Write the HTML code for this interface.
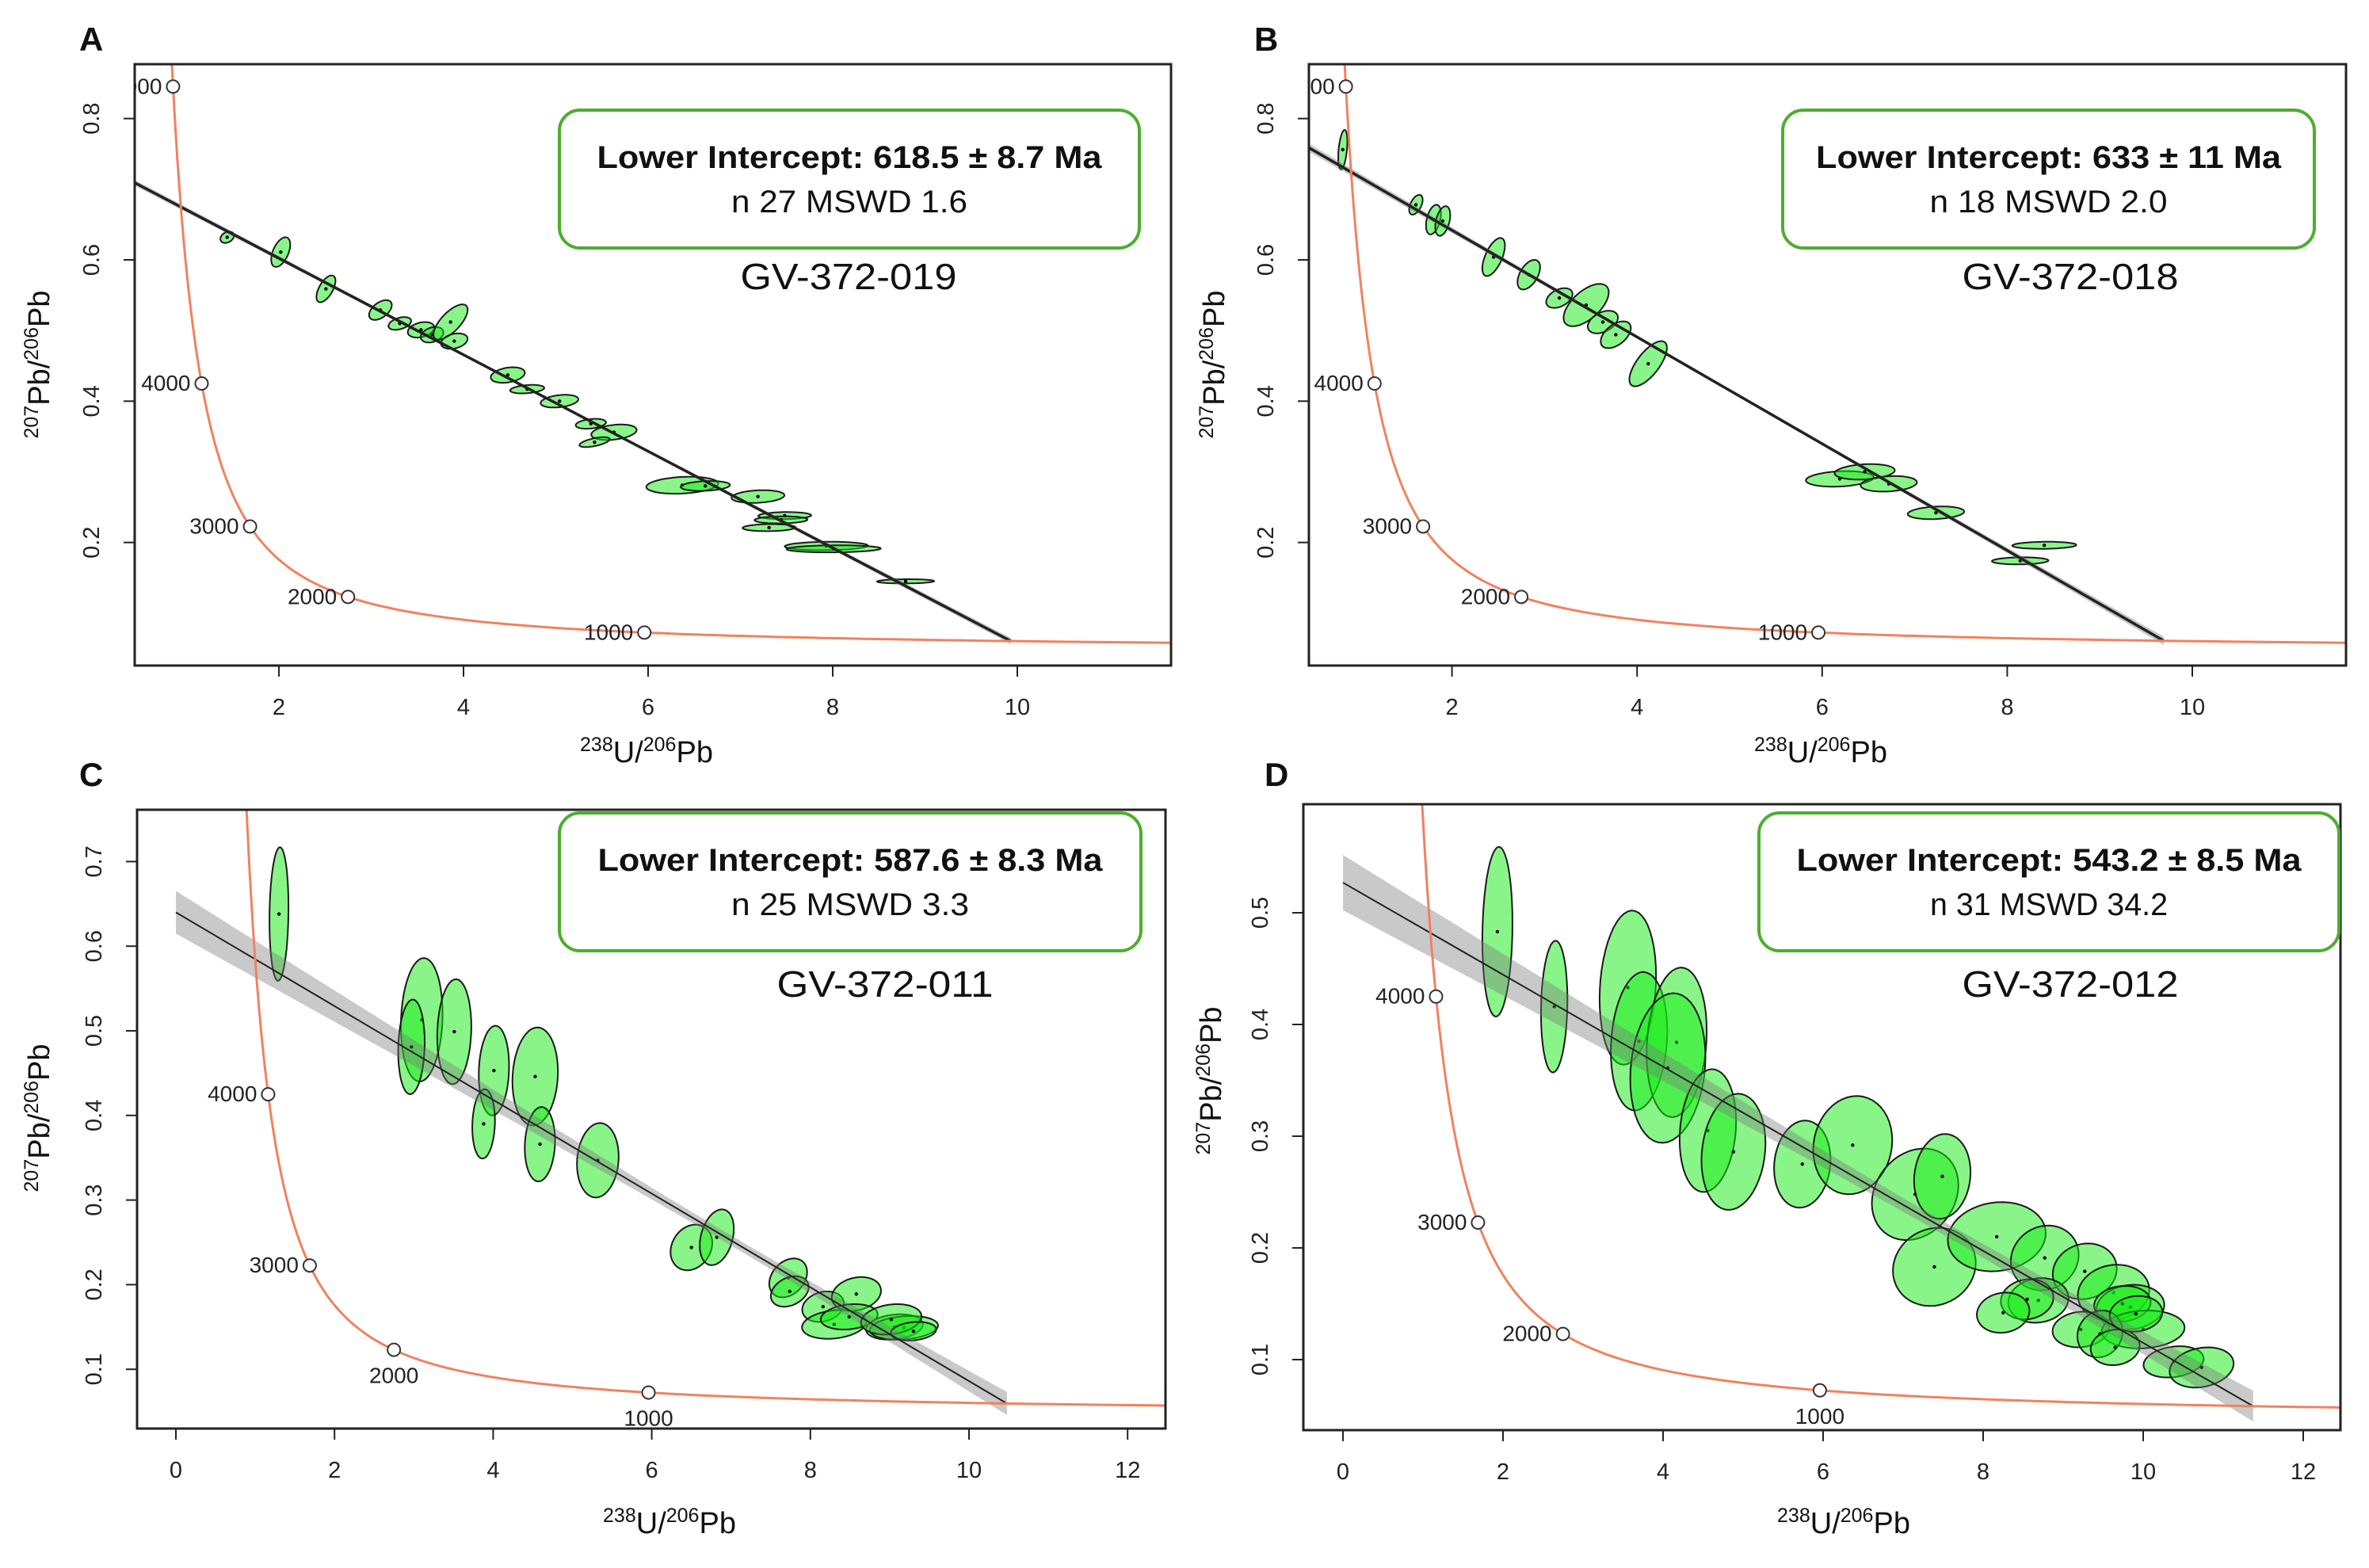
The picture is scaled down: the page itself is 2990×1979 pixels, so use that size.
<!DOCTYPE html>
<html><head><meta charset="utf-8"><style>
html,body{margin:0;padding:0;background:#fff;}
svg{display:block;}
text{font-family:"Liberation Sans",sans-serif;}
.narrow{font-family:"Liberation Sans Narrow","Liberation Sans",sans-serif;}
</style></head><body>
<svg id="fig" width="2990" height="1979" viewBox="0 0 2990 1979" xmlns="http://www.w3.org/2000/svg">
<rect width="2990" height="1979" fill="#fff"/>
</svg>
<script>
// ---- Panel A data ----
const aX=[1.44,2.02,2.51,3.10,3.31,3.54,3.66,3.86,3.90,4.48,4.69,5.04,5.38,5.63,5.42,6.37,6.62,7.19,7.48,7.44,7.31,7.93,8.01,8.79];
const aY=[0.632,0.611,0.559,0.529,0.510,0.501,0.494,0.512,0.485,0.437,0.417,0.400,0.368,0.356,0.342,0.281,0.280,0.265,0.238,0.232,0.221,0.195,0.191,0.145];
const aSX=[.074,.103,.103,.123,.123,.144,.123,.185,.144,.185,.185,.205,.164,.246,.164,.39,.267,.287,.287,.287,.287,.45,.51,.31];
const aSY=[.008,.021,.019,.014,.009,.011,.011,.025,.011,.011,.006,.009,.007,.011,.007,.012,.007,.009,.005,.005,.005,.006,.005,.003];
const aRho=[.3,.5,.6,.5,.4,.3,.3,.7,.3,.3,.3,.3,.3,.3,.6,.2,.2,.2,.1,.1,.1,.1,.1,.1];
// ---- Panel B data ----
const bX=[0.82,1.61,1.80,1.90,2.45,2.83,3.16,3.45,3.63,3.77,4.12,6.19,6.46,6.72,7.23,8.40,8.14];
const bY=[0.756,0.678,0.657,0.655,0.604,0.579,0.546,0.536,0.512,0.494,0.453,0.290,0.300,0.283,0.242,0.196,0.174];
const bSX=[.049,.073,.081,.081,.122,.122,.142,.244,.163,.163,.203,.366,.325,.305,.305,.346,.305];
const bSY=[.028,.014,.021,.021,.027,.021,.014,.030,.016,.019,.032,.011,.011,.011,.009,.005,.005];
const bRho=[.4,.5,.4,.4,.6,.5,.4,.6,.4,.5,.7,.2,.2,.2,.2,.1,.1];
// ---- Panel C data ----
const cX=[1.30,3.10,2.97,3.51,4.01,4.53,3.88,4.59,5.32,6.50,6.82,7.72,7.74,8.16,8.58,8.30,8.49,9.06,9.18,9.02,9.30];
const cY=[0.638,0.513,0.481,0.499,0.453,0.446,0.390,0.366,0.347,0.244,0.256,0.208,0.192,0.174,0.189,0.153,0.162,0.150,0.149,0.159,0.145];
const cSX=[.12,.263,.167,.215,.191,.287,.143,.191,.263,.263,.215,.239,.239,.263,.311,.406,.359,.359,.43,.382,.287];
const cSY=[.079,.073,.056,.062,.053,.058,.041,.044,.044,.027,.033,.023,.018,.018,.020,.017,.015,.015,.014,.018,.011];
const cRho=[.1,.1,.1,.1,.1,.1,.1,.1,.1,.2,.3,.3,.3,.2,.2,.2,.2,.2,.2,.2,.2];
// ---- Panel D data ----
const dX=[1.93,2.64,3.56,3.70,4.17,4.06,4.56,4.88,5.74,6.37,7.15,7.49,7.39,8.17,8.77,9.27,8.69,8.55,8.25,9.63,9.84,9.74,9.22,10.0,9.46,9.65,10.38,10.73,9.91];
const dY=[0.483,0.416,0.433,0.385,0.384,0.361,0.305,0.286,0.275,0.292,0.248,0.264,0.183,0.210,0.191,0.179,0.153,0.154,0.142,0.160,0.147,0.150,0.127,0.127,0.123,0.111,0.098,0.093,0.141];
const dSX=[.188,.165,.353,.353,.376,.47,.353,.4,.353,.494,.541,.353,.518,.612,.424,.4,.376,.329,.329,.447,.424,.353,.353,.518,.282,.306,.376,.4,.329];
const dSY=[.076,.059,.069,.062,.067,.067,.055,.052,.039,.044,.041,.038,.035,.031,.029,.025,.020,.018,.018,.025,.020,.016,.016,.017,.021,.016,.014,.018,.016];
const dRho=[.1,.1,.15,.15,.15,.15,.15,.15,.1,.1,.2,.1,.1,.1,.1,.1,.1,.1,.1,.1,.1,.1,.1,.1,.1,.1,.2,.2,.1];
// tick labels
const abXTicks=[2,4,6,8,10];
const abYTicks=[0.2,0.4,0.6,0.8];
const cdXTicks=[0,2,4,6,8,10,12];
const cYTicks=[0.1,0.2,0.3,0.4,0.5,0.6,0.7];
const dYTicks=[0.1,0.2,0.3,0.4,0.5];
const concAges=[1000,2000,3000,4000,5000];
// discordia: upper intercept y at x=0, lower intercept age
const aDisc=[0.739,618.5]; const bDisc=[0.793,633]; const cDisc=[0.640,587.6]; const dDisc=[0.527,543.2];
const aStats=["618.5","8.7","27","1.6"]; const bStats=["633","11","18","2.0"];
const cStats=["587.6","8.3","25","3.3"]; const dStats=["543.2","8.5","31","34.2"];

const NS="http://www.w3.org/2000/svg";
const svg=document.getElementById('fig');
const L238=1.55125e-10, L235=9.8485e-10;
function tw(tMa){const t=tMa*1e6;const e8=Math.exp(L238*t)-1, e5=Math.exp(L235*t)-1;return [1/e8, e5/e8/137.88];}
function mk(tag,attrs,parent){const e=document.createElementNS(NS,tag);for(const k in attrs)e.setAttribute(k,attrs[k]);(parent||svg).appendChild(e);return e;}

function panel(cfg){
  const g=mk('g',{});
  
  
  const [fl,ft,fr,fb]=cfg.frame;
  const X=v=>cfg.x0+v*cfg.xu, Y=v=>cfg.y0-v*cfg.yu;
  const clipId='clip'+cfg.id;
  const cp=mk('clipPath',{id:clipId},g); mk('rect',{x:fl,y:ft,width:fr-fl,height:fb-ft},cp);
  const inner=mk('g',{'clip-path':'url(#'+clipId+')'},g);
  // ellipses
  const eg=mk('g',{},inner);
  
  
  for(let i=0;i<cfg.xs.length;i++){
    let d='';const r=cfg.rho[i],s=Math.sqrt(1-r*r);
    for(let k=0;k<=48;k++){const t=k/48*2*Math.PI;
      const px=X(cfg.xs[i]+cfg.sx[i]*Math.cos(t)), py=Y(cfg.ys[i]+cfg.sy[i]*(r*Math.cos(t)+s*Math.sin(t)));
      d+=(k?'L':'M')+px.toFixed(1)+' '+py.toFixed(1);}
    const el=mk('path',{d:d+'Z',fill:'rgba(20,235,20,0.5)',stroke:'#1a1a1a','stroke-width':2},eg);
    
    
    mk('circle',{cx:X(cfg.xs[i]),cy:Y(cfg.ys[i]),r:2.2,fill:'#000'},eg);
  }
  // discordia
  const li=tw(cfg.disc[1]); const y0=cfg.disc[0]; const slope=(li[1]-y0)/li[0];
  const xl=(fl-cfg.x0)/cfg.xu; const xs0=Math.max(xl,0);
  const [ba,bb,bc]=cfg.band; const w=x=>Math.sqrt(ba*ba+bb*bb*(x-bc)*(x-bc));
  let up='',lo=[];
  for(let k=0;k<=60;k++){const x=xs0+(li[0]-xs0)*k/60;const y=y0+slope*x;
    up+=(k?'L':'M')+X(x).toFixed(1)+' '+Y(y+w(x)).toFixed(1);lo.push(X(x).toFixed(1)+' '+Y(y-w(x)).toFixed(1));}
  const band=mk('path',{d:up+'L'+lo.reverse().join('L')+'Z',fill:'rgba(120,120,120,0.4)'},inner);
  
  
  const dl=mk('line',{x1:X(xs0),y1:Y(y0+slope*xs0),x2:X(li[0]),y2:Y(li[1]),stroke:'#222','stroke-width':cfg.lw},inner);
  
  
  // concordia
  let cd='';
  for(let k=0;k<=400;k++){const t=200+k*(5500-200)/400;const p=tw(t);cd+=(k?'L':'M')+X(p[0]).toFixed(1)+' '+Y(p[1]).toFixed(1);}
  const cc=mk('path',{d:cd,fill:'none',stroke:'#f0825f','stroke-width':3},inner);
  
  
  concAges.forEach((a,i)=>{const p=tw(a);const px=X(p[0]),py=Y(p[1]);
    const m=mk('circle',{cx:px,cy:py,r:8,fill:'#fff',stroke:'#333','stroke-width':2},inner);
    
    
    const pos=cfg.lblPos[i];let tx,ty,anc;
    if(pos==='b'){tx=px;ty=py+42;anc='middle';}else{tx=px-14;ty=py+9;anc='end';}
    const t=mk('text',{x:tx,y:ty,'text-anchor':anc,'font-size':28,fill:'#222'},inner);t.textContent=a;
    
    
  });
  // frame
  const fr_=mk('rect',{x:fl,y:ft,width:fr-fl,height:fb-ft,fill:'none',stroke:'#222','stroke-width':3},g);
  
  
  // ticks
  cfg.xt.forEach(v=>{const px=X(v);mk('line',{x1:px,y1:fb,x2:px,y2:fb+14,stroke:'#222','stroke-width':2},g);
    const t=mk('text',{x:px,y:fb+62,'text-anchor':'middle','font-size':29,fill:'#222'},g);t.textContent=v;
    
    });
  cfg.yt.forEach(v=>{const py=Y(v);mk('line',{x1:fl,y1:py,x2:fl-14,y2:py,stroke:'#222','stroke-width':2},g);
    const t=mk('text',{x:0,y:0,'text-anchor':'middle','font-size':29,fill:'#222',transform:'translate('+(fl-45)+','+py+') rotate(-90)'},g);t.textContent=v.toFixed(1);
    
    });
  // axis titles
  const xtit=mk('text',{x:cfg.xtx,y:cfg.xty,'text-anchor':'middle','font-size':38,fill:'#111'},g);
  xtit.innerHTML='<tspan font-size="25" dy="-14">238</tspan><tspan dy="14">U/</tspan><tspan font-size="25" dy="-14">206</tspan><tspan dy="14">Pb</tspan>';
  
  
  const ytit=mk('text',{x:0,y:0,'text-anchor':'middle','font-size':38,fill:'#111',transform:'translate('+cfg.ytx+','+cfg.yty+') rotate(-90)'},g);
  ytit.innerHTML='<tspan font-size="25" dy="-14">207</tspan><tspan dy="14">Pb/</tspan><tspan font-size="25" dy="-14">206</tspan><tspan dy="14">Pb</tspan>';
  
  
  // panel letter
  const pl=mk('text',{x:cfg.letter[0],y:cfg.letter[1],'font-size':42,'font-weight':'bold',fill:'#111'},g);pl.textContent=cfg.id;
  
  
  // result box
  const [bx1,by1,bx2,by2]=cfg.box;const cx=(bx1+bx2)/2;
  const bxr=mk('rect',{x:bx1,y:by1,width:bx2-bx1,height:by2-by1,rx:26,fill:'#fff',stroke:'#4cae2e','stroke-width':4},g);
  
  
  const st=cfg.stats;
  const t1=mk('text',{x:cx,y:by1+73,'text-anchor':'middle','font-size':40,'font-weight':'bold',fill:'#111',textLength:cfg.w1,lengthAdjust:'spacingAndGlyphs',class:'narrow'},g);
  t1.textContent='Lower Intercept: '+st[0]+'  \u00b1 '+st[1]+' Ma';
  
  
  const t2=mk('text',{x:cx,y:by1+129,'text-anchor':'middle','font-size':40,fill:'#111',class:'narrow',textLength:cfg.w2,lengthAdjust:'spacingAndGlyphs'},g);
  t2.textContent='n '+st[2]+' MSWD '+st[3];
  
  
  const t3=mk('text',{x:cfg.sample[0],y:cfg.sample[1],'text-anchor':'middle','font-size':46,fill:'#111',class:'narrow',textLength:cfg.sample[3],lengthAdjust:'spacingAndGlyphs'},g);
  t3.textContent=cfg.sample[2];
  
  
}

panel({id:'A',frame:[170,81,1478,840],x0:119,xu:116.5,y0:863,yu:891.7,xs:aX,ys:aY,sx:aSX,sy:aSY,rho:aRho,
  disc:aDisc,band:[0.002,0.0008,5],lw:3.5,lblPos:['l','l','l','l','l'],xt:abXTicks,yt:abYTicks,
  xtx:816,xty:962,ytx:62,yty:460,letter:[100,64],box:[706,139,1438,313],stats:aStats,w1:637,w2:298,
  sample:[1071,365,'GV-372-019',273]});
panel({id:'B',frame:[1652,81,2961,840],x0:1599,xu:116.8,y0:863,yu:891.7,xs:bX,ys:bY,sx:bSX,sy:bSY,rho:bRho,
  disc:bDisc,band:[0.002,0.0012,5],lw:3.5,lblPos:['l','l','l','l','l'],xt:abXTicks,yt:abYTicks,
  xtx:2298,xty:962,ytx:1545,yty:460,letter:[1583,64],box:[2250,139,2921,313],stats:bStats,w1:587,w2:300,
  sample:[2613,365,'GV-372-018',273]});
panel({id:'C',frame:[173,1022,1471,1803],x0:222,xu:100.1,y0:1835,yu:1068,xs:cX,ys:cY,sx:cSX,sy:cSY,rho:cRho,
  disc:cDisc,band:[0.006,0.0035,7],lw:2,lblPos:['b','b','l','l','l'],xt:cdXTicks,yt:cYTicks,
  xtx:845,xty:1935,ytx:62,yty:1411,letter:[100,992],box:[706,1026,1440,1200],stats:cStats,w1:637,w2:300,
  sample:[1117,1258,'GV-372-011',273]});
panel({id:'D',frame:[1645,1015,2954,1805],x0:1695,xu:101,y0:1857,yu:1410,xs:dX,ys:dY,sx:dSX,sy:dSY,rho:dRho,
  disc:dDisc,band:[0.006,0.0032,7.5],lw:2,lblPos:['b','l','l','l','l'],xt:cdXTicks,yt:dYTicks,
  xtx:2327,xty:1935,ytx:1541,yty:1364,letter:[1596,992],box:[2220,1026,2952,1200],stats:dStats,w1:637,w2:300,
  sample:[2613,1258,'GV-372-012',273]});
</script>
</body></html>
